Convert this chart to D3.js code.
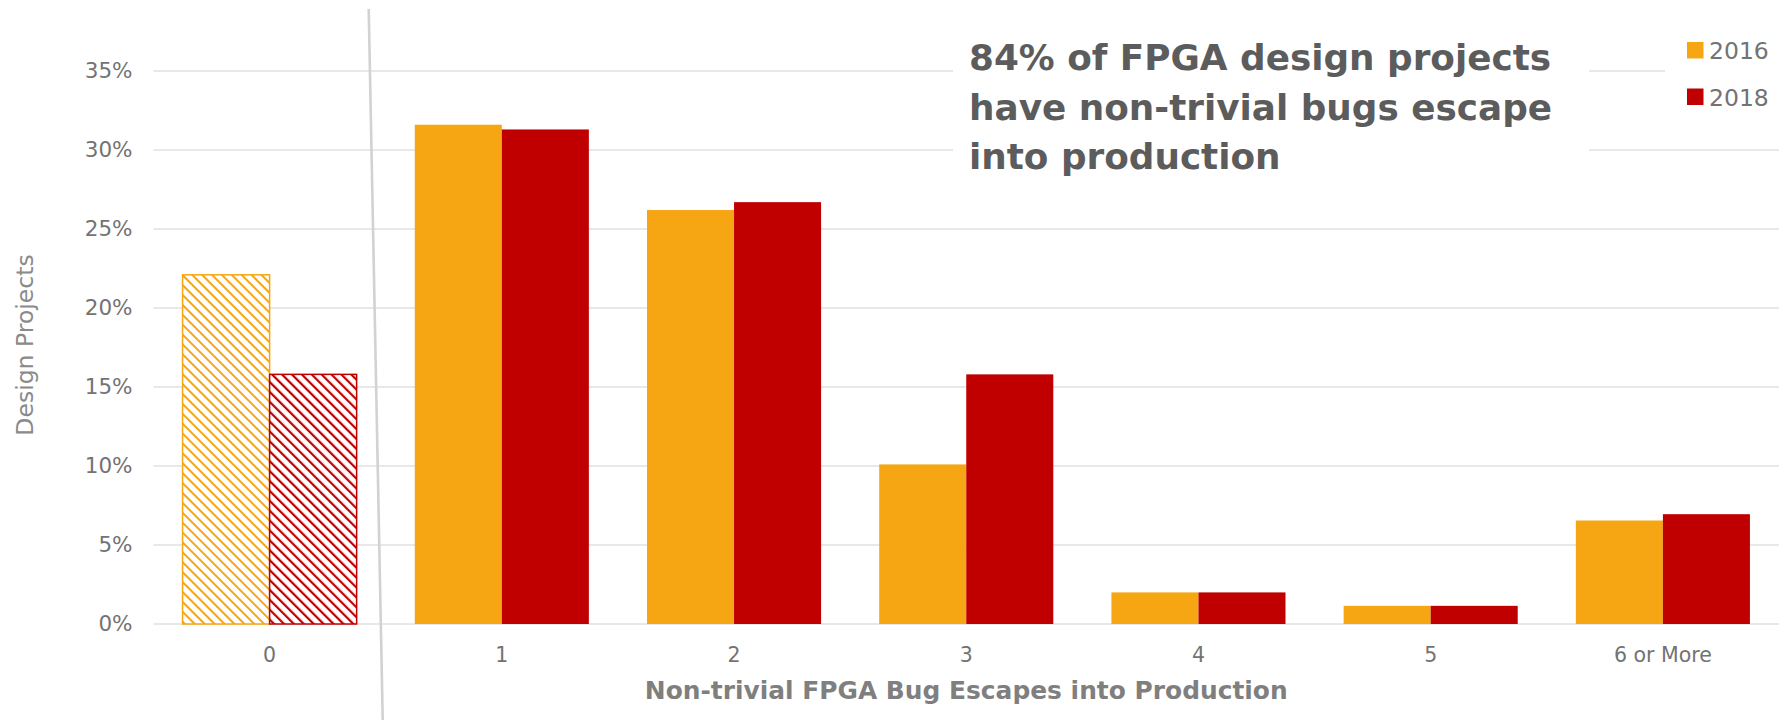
<!DOCTYPE html>
<html>
<head>
<meta charset="utf-8">
<script src="https://cdn.jsdelivr.net/npm/d3@7"></script>
<style>
  html, body { margin: 0; padding: 0; background: #ffffff; }
  svg { display: block; }
  text { font-family: "DejaVu Sans", Verdana, sans-serif; }
</style>
</head>
<body>
<svg id="chart" width="1787" height="720"></svg>
<script>
// Share of design projects by number of non-trivial bug escapes (percent)
const categories = ["0", "1", "2", "3", "4", "5", "6 or More"];
const seriesNames = ["2016", "2018"];
const values2016 = [22.1, 31.6, 26.2, 10.1, 2.0, 1.15, 6.55];
const values2018 = [15.8, 31.3, 26.7, 15.8, 2.0, 1.15, 6.95];
const yTickValues = [0, 5, 10, 15, 20, 25, 30, 35];
const hatchedCategories = ["0"];
const titleLines = [
  "84% of FPGA design projects",
  "have non-trivial bugs escape",
  "into production"
];
const xAxisTitle = "Non-trivial FPGA Bug Escapes into Production";
const yAxisTitle = "Design Projects";

const colors = { "2016": "#F6A613", "2018": "#C00000" };
const seriesValues = { "2016": values2016, "2018": values2018 };

const svg = d3.select("#chart");
const plot = { left: 153.5, right: 1779, top: 71, bottom: 624 };

const x = d3.scaleBand().domain(categories).range([plot.left, plot.right]).paddingInner(0).paddingOuter(0);
const x1 = d3.scaleBand().domain(seriesNames).range([0, x.bandwidth()]).paddingInner(0).paddingOuter(0.334);
const y = d3.scaleLinear().domain([0, 35]).range([plot.bottom, plot.top]);

// Diagonal hatch fills for the highlighted category
const defs = svg.append("defs");
seriesNames.forEach(s => {
  const p = defs.append("pattern")
    .attr("id", "hatch-" + s)
    .attr("patternUnits", "userSpaceOnUse")
    .attr("width", 7)
    .attr("height", 7)
    .attr("patternTransform", "rotate(-45)");
  p.append("rect").attr("width", 7).attr("height", 7).attr("fill", "#ffffff");
  p.append("line")
    .attr("x1", 0).attr("y1", 0).attr("x2", 0).attr("y2", 7)
    .attr("stroke", colors[s])
    .attr("stroke-width", s === "2018" ? 4.4 : 4);
});

// Horizontal gridlines
svg.append("g")
  .selectAll("line")
  .data(yTickValues)
  .join("line")
  .attr("x1", plot.left)
  .attr("x2", plot.right)
  .attr("y1", d => y(d))
  .attr("y2", d => y(d))
  .attr("stroke", "#e0e0e0")
  .attr("stroke-width", 1.6);

// Y axis tick labels
const yAxis = d3.axisLeft(y).tickValues(yTickValues).tickFormat(d => d + "%").tickSize(0).tickPadding(0);
const yAxisG = svg.append("g").attr("transform", `translate(${plot.left - 21},0)`).call(yAxis);
yAxisG.select(".domain").remove();
yAxisG.selectAll("text")
  .attr("font-family", "DejaVu Sans, Verdana, sans-serif")
  .attr("font-size", 21.5)
  .attr("fill", "#737373");

// X axis tick labels
const xAxis = d3.axisBottom(x).tickSize(0).tickPadding(0);
const xAxisG = svg.append("g").attr("transform", `translate(0,${plot.bottom + 23})`).call(xAxis);
xAxisG.select(".domain").remove();
xAxisG.selectAll("text")
  .attr("font-family", "DejaVu Sans, Verdana, sans-serif")
  .attr("font-size", 20.5)
  .attr("fill", "#737373");

// Bars
const groups = svg.append("g")
  .selectAll("g")
  .data(categories.map((c, i) => ({ category: c, index: i })))
  .join("g")
  .attr("transform", d => `translate(${x(d.category)},0)`);

groups.selectAll("rect")
  .data(d => seriesNames.map(s => ({
    series: s,
    value: seriesValues[s][d.index],
    hatched: hatchedCategories.includes(d.category)
  })))
  .join("rect")
  .attr("x", d => x1(d.series))
  .attr("y", d => y(d.value))
  .attr("width", x1.bandwidth())
  .attr("height", d => y(0) - y(d.value))
  .attr("fill", d => d.hatched ? `url(#hatch-${d.series})` : colors[d.series])
  .attr("stroke", d => d.hatched ? colors[d.series] : "none")
  .attr("stroke-width", d => d.hatched ? 1.5 : 0);

// Slanted separator between the first category and the rest
const sepX = x(categories[1]);
svg.append("line")
  .attr("x1", sepX - 17)
  .attr("y1", 9)
  .attr("x2", sepX - 3)
  .attr("y2", 720)
  .attr("stroke", "#d2d2d2")
  .attr("stroke-width", 2.6);

// Headline with its white backing box
svg.append("rect")
  .attr("x", 953).attr("y", 28)
  .attr("width", 636).attr("height", 160)
  .attr("fill", "#ffffff");
svg.append("text")
  .attr("x", 969)
  .attr("y", 70)
  .attr("font-family", "DejaVu Sans, Verdana, sans-serif")
  .attr("font-weight", "bold")
  .attr("font-size", 35.8)
  .attr("fill", "#5c5c5c")
  .selectAll("tspan")
  .data(titleLines)
  .join("tspan")
  .attr("x", 969)
  .attr("dy", (d, i) => i === 0 ? 0 : 49.5)
  .text(d => d);

// Legend
const legendG = svg.append("g");
legendG.append("rect")
  .attr("x", 1665).attr("y", 26)
  .attr("width", 122).attr("height", 96)
  .attr("fill", "#ffffff");
const legendItems = legendG.selectAll("g.item")
  .data(seriesNames)
  .join("g")
  .attr("class", "item")
  .attr("transform", (d, i) => `translate(1687,${42 + i * 46.5})`);
legendItems.append("rect")
  .attr("width", 16.5).attr("height", 16.5)
  .attr("fill", d => colors[d]);
legendItems.append("text")
  .attr("x", 22)
  .attr("y", 17)
  .attr("font-size", 23.5)
  .attr("fill", "#737373")
  .text(d => d);

// Axis titles
svg.append("text")
  .attr("x", (plot.left + plot.right) / 2)
  .attr("y", 699)
  .attr("text-anchor", "middle")
  .attr("font-weight", "bold")
  .attr("font-size", 24.9)
  .attr("fill", "#7f7f7f")
  .text(xAxisTitle);

svg.append("text")
  .attr("transform", "translate(33,345) rotate(-90)")
  .attr("text-anchor", "middle")
  .attr("font-size", 23.5)
  .attr("fill", "#8a8a8a")
  .text(yAxisTitle);
</script>
</body>
</html>
